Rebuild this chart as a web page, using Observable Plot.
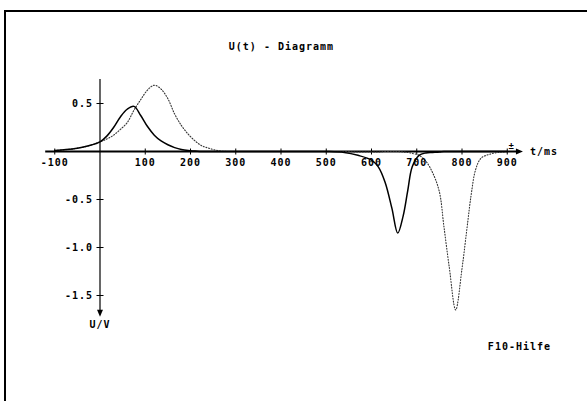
<!DOCTYPE html>
<html>
<head>
<meta charset="utf-8">
<script src="https://cdn.jsdelivr.net/npm/d3@7"></script>
<script src="https://cdn.jsdelivr.net/npm/@observablehq/plot@0.6"></script>
<style>
  html, body { margin: 0; padding: 0; background: #fff; }
  #wrap { position: relative; width: 587px; height: 401px; overflow: hidden; }
  #border { position: absolute; left: 4px; top: 10px; width: 700px; height: 500px;
            border-left: 2px solid #000; border-top: 2px solid #000; box-sizing: border-box; }
  #chart { position: absolute; left: 0; top: 0; }
  svg text { font-family: "DejaVu Sans Mono", monospace; font-weight: bold; letter-spacing: 1px; }
</style>
</head>
<body>
<div id="wrap"><div id="border"></div><div id="chart"></div></div>
<script>
// ---- data (t in ms, U in V) ----
const tGrid = [-100, -75, -50, -25, 0, 15, 30, 45, 60, 75, 90, 105, 120, 135, 150, 165, 180, 195, 210, 225, 240, 260, 280, 300, 400, 500, 540, 570, 600, 615, 630, 645, 658, 670, 680, 690, 705, 720, 735, 750, 760, 772, 786, 800, 811, 820, 830, 842, 860, 880, 900];
const uSolid = [0.01, 0.02, 0.035, 0.06, 0.10, 0.16, 0.25, 0.36, 0.44, 0.47, 0.375, 0.26, 0.17, 0.11, 0.07, 0.04, 0.02, 0.01, 0.005, 0, 0, 0, 0, 0, 0, 0, -0.01, -0.04, -0.09, -0.16, -0.32, -0.59, -0.85, -0.67, -0.41, -0.16, -0.04, -0.015, -0.01, -0.005, 0, 0, 0, 0, 0, 0, 0, 0, 0, 0, 0];
const uDotted = [0.01, 0.02, 0.035, 0.06, 0.10, 0.13, 0.17, 0.23, 0.30, 0.43, 0.54, 0.64, 0.69, 0.65, 0.55, 0.39, 0.27, 0.18, 0.11, 0.06, 0.035, 0.01, 0, 0, 0, 0, 0, -0.005, -0.005, -0.005, 0, 0, 0, -0.005, -0.01, -0.02, -0.04, -0.10, -0.22, -0.42, -0.78, -1.21, -1.65, -1.22, -0.80, -0.46, -0.19, -0.07, -0.03, -0.01, 0];

const xTicks = [-100, 100, 200, 300, 400, 500, 600, 700, 800, 900];
const xTickLabels = ["-100", "100", "200", "300", "400", "500", "600", "700", "800", "900"];
const yTicks = [0.5, -0.5, -1.0, -1.5];
const yTickLabels = ["0.5", "-0.5", "-1.0", "-1.5"];
const title = "U(t) - Diagramm";
const xLabel = "t/ms";
const yLabel = "U/V";
const helpText = "F10-Hilfe";

const solidData = tGrid.map((t, i) => ({t, u: uSolid[i]}));
const dottedData = tGrid.map((t, i) => ({t, u: uDotted[i]}));

// custom symbols
const rad = (size) => Math.sqrt(size / Math.PI);
const vTick = {draw(c, s) { const r = rad(s); c.moveTo(0, -r); c.lineTo(0, r); }};
const hTick = {draw(c, s) { const r = rad(s); c.moveTo(-r, 0); c.lineTo(r, 0); }};
const arrowRight = {draw(c, s) { const r = rad(s); c.moveTo(r, 0); c.lineTo(-r, -r * 0.85); c.lineTo(-r, r * 0.85); c.closePath(); }};
const arrowDown = {draw(c, s) { const r = rad(s); c.moveTo(0, r); c.lineTo(-r * 0.85, -r); c.lineTo(r * 0.85, -r); c.closePath(); }};

const chart = Plot.plot({
  width: 587,
  height: 401,
  margin: 0,
  x: {type: "linear", domain: [-100, 900], range: [54.25, 506.75], axis: null},
  y: {type: "linear", domain: [-1.5, 0.5], range: [295, 103], axis: null},
  style: {background: "transparent", overflow: "visible"},
  marks: [
    // axes
    Plot.ruleY([0], {x1: -120, x2: 925, stroke: "#000", strokeWidth: 1.8}),
    Plot.ruleX([0], {y1: 0.75, y2: -1.68, stroke: "#000", strokeWidth: 1.2}),
    Plot.dot(xTicks, {x: d => d, y: 0, symbol: vTick, r: 3, stroke: "#000", fill: "none", strokeWidth: 1}),
    Plot.dot(yTicks, {x: 0, y: d => d, symbol: hTick, r: 3.5, stroke: "#000", fill: "none", strokeWidth: 1}),
    Plot.dot([0], {x: 927, y: 0, symbol: arrowRight, r: 3.5, fill: "#000", stroke: "none"}),
    Plot.dot([0], {x: 0, y: -1.685, symbol: arrowDown, r: 3.5, fill: "#000", stroke: "none"}),
    // curves
    Plot.line(dottedData, {x: "t", y: "u", curve: "catmull-rom", stroke: "#333", strokeWidth: 1.1, strokeDasharray: "1,1.8"}),
    Plot.line(solidData, {x: "t", y: "u", curve: "catmull-rom", stroke: "#000", strokeWidth: 1.5}),
    // tick labels
    Plot.text(xTicks, {x: d => d, y: 0, text: (d, i) => xTickLabels[i], dy: 11, fontSize: 10, fill: "#000"}),
    Plot.text(yTicks, {x: 0, y: d => d, text: (d, i) => yTickLabels[i], textAnchor: "end", dx: -7, fontSize: 10, fill: "#000"}),
    // labels
    Plot.text([title], {x: 401, y: 1.095, text: d => d, fontSize: 10, fill: "#000"}),
    Plot.text([xLabel], {x: 950, y: 0, text: d => d, textAnchor: "start", fontSize: 10, fill: "#000"}),
    Plot.text([yLabel], {x: 0, y: -1.80, text: d => d, fontSize: 10, fill: "#000"}),
    Plot.text([helpText], {x: 927, y: -2.03, text: d => d, fontSize: 10, fill: "#000"}),
    Plot.text(["±"], {x: 910, y: 0.06, text: d => d, fontSize: 9, fill: "#000"})
  ]
});
document.getElementById("chart").appendChild(chart);
</script>
</body>
</html>
